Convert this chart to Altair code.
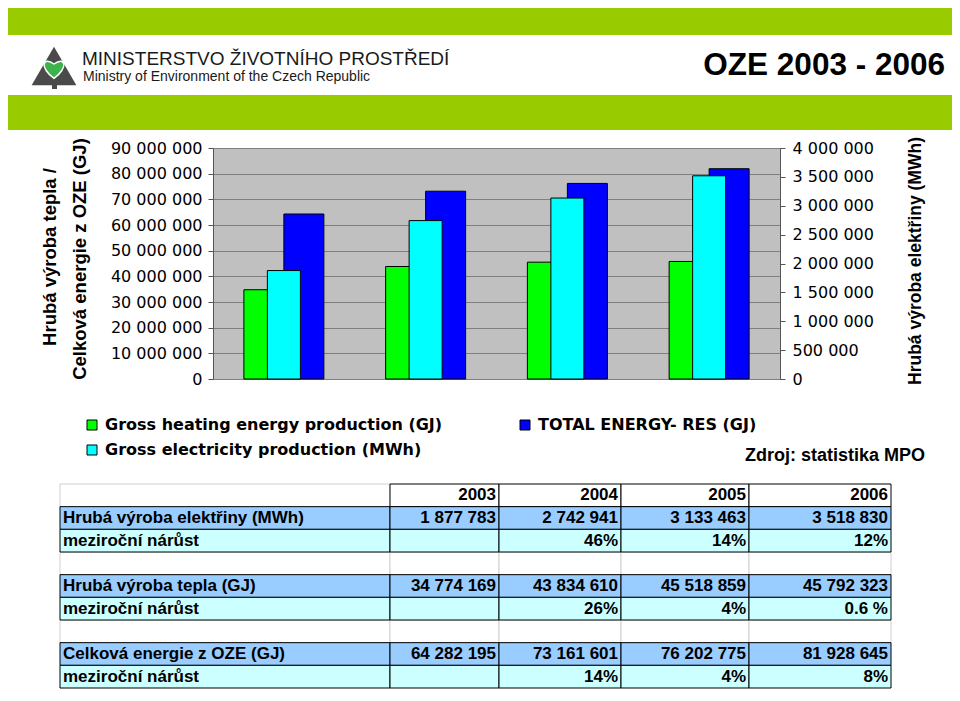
import altair as alt
import pandas as pd

# ---------------- data ----------------
years = ["2003", "2004", "2005", "2006"]
heat = [34774169, 43834610, 45518859, 45792323]      # GJ
elec = [1877783, 2742941, 3133463, 3518830]          # MWh
total = [64282195, 73161601, 76202775, 81928645]     # GJ
elec_growth = ["46%", "14%", "12%"]
heat_growth = ["26%", "4%", "0.6 %"]
total_growth = ["14%", "4%", "8%"]
name_heat = "Gross heating energy production (GJ)"
name_total = "TOTAL ENERGY- RES (GJ)"
name_elec = "Gross electricity production (MWh)"
color_heat, color_total, color_elec = "#00FF00", "#0000FF", "#00FFFF"
left_ticks = list(range(0, 90_000_001, 10_000_000))
right_ticks = list(range(0, 4_000_001, 500_000))
row_label_elec = "Hrubá výroba elektřiny (MWh)"
row_label_heat = "Hrubá výroba tepla (GJ)"
row_label_total = "Celková energie z OZE (GJ)"
row_label_growth = "meziroční nárůst"

# ---------------- layout helpers ----------------
OX, OY = 213, 148          # page position of plot area
W, H = 567, 231
def px(x): return x - OX
def py(y): return y - OY

CF = "DejaVu Sans"
BF = "Liberation Sans"
LBL = "replace(format(datum.value, ','), regexp(',', 'g'), ' ')"

def deco_text(txt, x, y, **kw):
    return alt.Chart(pd.DataFrame({"t": [txt]})).mark_text(**kw).encode(
        text="t:N", x=alt.value(px(x)), y=alt.value(py(y)))

def deco_rect(x1, y1, x2, y2, **kw):
    return alt.Chart(pd.DataFrame({"a": [0]})).mark_rect(**kw).encode(
        x=alt.value(px(x1)), x2=alt.value(px(x2)),
        y=alt.value(py(y1)), y2=alt.value(py(y2)))

# ---------------- bar chart ----------------
df_primary = pd.DataFrame({
    "year": years * 2,
    "series": [name_heat] * 4 + [name_total] * 4,
    "value": heat + total,
})
df_elec = pd.DataFrame({"year": years, "series": [name_elec] * 4, "value": elec})

# legend grid is filled column by column: heat, elec (col 1) / total (col 2)
color_scale = alt.Scale(domain=[name_heat, name_elec, name_total],
                        range=[color_heat, color_elec, color_total])
legend = alt.Legend(orient="none", legendX=px(84), legendY=py(417), columns=2,
                    columnPadding=74, rowPadding=9, symbolType="square",
                    symbolSize=100, symbolStrokeColor="black", symbolStrokeWidth=1,
                    symbolOpacity=1, labelFont=CF, labelFontSize=16,
                    labelFontWeight="bold", labelColor="black", labelOffset=5,
                    labelLimit=600, title=None, padding=0)

x_scale = alt.Scale(domain=years, paddingInner=0, paddingOuter=0)
axis_common = dict(domainColor="#555555", tickColor="#555555", tickSize=5,
                   labelFont=CF, labelColor="black", title=None)

primary = alt.Chart(df_primary).mark_bar(stroke="black", strokeWidth=1).encode(
    x=alt.X("year:N", scale=x_scale,
            axis=alt.Axis(orient="bottom", tickBand="extent", labelAngle=0,
                          labelFontSize=15, labelPadding=9, grid=False, **axis_common)),
    xOffset=alt.XOffset("series:N", scale=alt.Scale(domain=[name_heat, name_total],
                                                    paddingInner=0, paddingOuter=0.772)),
    y=alt.Y("value:Q", scale=alt.Scale(domain=[0, 90_000_000], nice=False),
            axis=alt.Axis(orient="left", values=left_ticks, labelExpr=LBL, grid=True,
                          gridColor="#808080", gridWidth=1, labelFontSize=16,
                          labelPadding=6, **axis_common)),
    color=alt.Color("series:N", scale=color_scale, legend=legend),
)

secondary = alt.Chart(df_elec).mark_bar(stroke="black", strokeWidth=1,
                                        width=alt.RelativeBandSize(0.233)).encode(
    x=alt.X("year:N", scale=x_scale, axis=None),
    y=alt.Y("value:Q", scale=alt.Scale(domain=[0, 4_000_000], nice=False),
            axis=alt.Axis(orient="right", values=right_ticks, labelExpr=LBL, grid=False,
                          labelFontSize=16, labelPadding=7, **axis_common)),
    color=alt.Color("series:N", scale=color_scale, legend=legend),
)

bars = alt.layer(primary, secondary).resolve_scale(y="independent")

# ---------------- table ----------------
def fmt(v): return f"{v:,}".replace(",", " ")

rows = [
    ("hdr", [""] + years),
    ("val", [row_label_elec] + [fmt(v) for v in elec]),
    ("grow", [row_label_growth, ""] + elec_growth),
    ("blank", [""] * 5),
    ("val", [row_label_heat] + [fmt(v) for v in heat]),
    ("grow", [row_label_growth, ""] + heat_growth),
    ("blank", [""] * 5),
    ("val", [row_label_total] + [fmt(v) for v in total]),
    ("grow", [row_label_growth, ""] + total_growth),
]
cells = []
for r, (kind, texts) in enumerate(rows):
    for c, t in enumerate(texts):
        k = "hdr_label" if (kind == "hdr" and c == 0) else kind
        cells.append({"row": f"r{r}", "col": c, "kind": k, "text": t})
df_cells = pd.DataFrame(cells)

tx_scale = alt.Scale(domain=[-0.5, 0.5, 1.5, 2.5, 3.5, 4.5],
                     range=[px(e) for e in [60, 390, 499, 621, 749, 891]],
                     nice=False, zero=False)
ty_scale = alt.Scale(domain=[f"r{i}" for i in range(len(rows))],
                     range=[py(484), py(688)], paddingInner=0, paddingOuter=0)

base = alt.Chart(df_cells).transform_calculate(x0="datum.col - 0.5", x1="datum.col + 0.5")
enc_xy = dict(x=alt.X("x0:Q", scale=tx_scale, axis=None), x2="x1:Q",
              y=alt.Y("row:N", scale=ty_scale, axis=None))

cells_gray = base.transform_filter(
    "datum.kind == 'blank' || datum.kind == 'hdr_label'"
).mark_rect(fill="white", stroke="#D0D0D0", strokeWidth=1).encode(**enc_xy)

cells_main = base.transform_filter(
    "datum.kind != 'blank' && datum.kind != 'hdr_label'"
).mark_rect(stroke="black", strokeWidth=1).encode(
    fill=alt.Fill("kind:N", scale=alt.Scale(domain=["hdr", "val", "grow"],
                                            range=["white", "#99CCFF", "#CCFFFF"]),
                  legend=None),
    **enc_xy)

txt_kw = dict(font=BF, fontWeight="bold", fontSize=17, color="black", baseline="middle")
text_labels = base.transform_filter("datum.col == 0").mark_text(
    align="left", dx=3, **txt_kw).encode(
    x=alt.X("x0:Q", scale=tx_scale, axis=None),
    y=alt.Y("row:N", scale=ty_scale, axis=None), text="text:N")
text_values = base.transform_filter("datum.col > 0").mark_text(
    align="right", dx=-3, **txt_kw).encode(
    x=alt.X("x1:Q", scale=tx_scale, axis=None),
    y=alt.Y("row:N", scale=ty_scale, axis=None), text="text:N")

table = alt.layer(cells_gray, cells_main, text_labels, text_values)

# ---------------- header & annotations ----------------
HEART = "M0,0.9 C-1.3,0 -1,-1.1 0,-0.35 C1,-1.1 1.3,0 0,0.9 Z"
one = pd.DataFrame({"a": [0]})
logo_fan = alt.Chart(one).mark_point(shape="triangle-up", filled=True, color="#4a4a4a",
                                     opacity=1, size=2000).encode(
    x=alt.value(px(54)), y=alt.value(py(66)))
logo_heart = alt.Chart(one).mark_point(shape=HEART, filled=True, fill="#3cb44b",
                                       stroke="white", strokeWidth=1.5, opacity=1,
                                       size=520).encode(
    x=alt.value(px(54)), y=alt.value(py(68)))

deco = [
    deco_rect(5, 1, 956, 35, color="#99CC00"),
    deco_rect(5, 95, 956, 130, color="#99CC00"),
    deco_rect(52, 78, 57, 89, color="#4a4a4a"),
    logo_fan, logo_heart,
    deco_text("MINISTERSTVO ŽIVOTNÍHO PROSTŘEDÍ", 82, 65, font=BF, fontSize=19,
              align="left", baseline="alphabetic", color="#1a1a1a"),
    deco_text("Ministry of Environment of the Czech Republic", 83, 81, font=BF,
              fontSize=14, align="left", baseline="alphabetic", color="#1a1a1a"),
    deco_text("OZE 2003 - 2006", 945, 75, font=BF, fontSize=31.5, fontWeight="bold",
              align="right", baseline="alphabetic", color="black"),
    deco_text("Hrubá výroba tepla /", 50, 257, font=BF, fontSize=18.5, fontWeight="bold",
              angle=270, align="center", baseline="middle", color="black"),
    deco_text("Celková energie z OZE (GJ)", 80, 259, font=BF, fontSize=18.5,
              fontWeight="bold", angle=270, align="center", baseline="middle",
              color="black"),
    deco_text("Hrubá výroba elektřiny (MWh)", 916, 261, font=BF, fontSize=17.5,
              fontWeight="bold", angle=270, align="center", baseline="middle",
              color="black"),
    deco_text("Zdroj: statistika MPO", 745, 456, font=BF, fontSize=18, fontWeight="bold",
              align="left", baseline="middle", color="black"),
]

chart = alt.layer(bars, table, *deco).resolve_scale(
    x="independent", y="independent"
).properties(
    width=W, height=H,
    autosize=alt.AutoSizeParams(type="none"),
    padding={"left": 205, "top": 140, "right": 172, "bottom": 310},
    background="white",
).configure_view(fill="#C0C0C0", stroke="#808080", strokeWidth=1)

chart.save("out.html", embed_options={"renderer": "svg", "actions": False})
